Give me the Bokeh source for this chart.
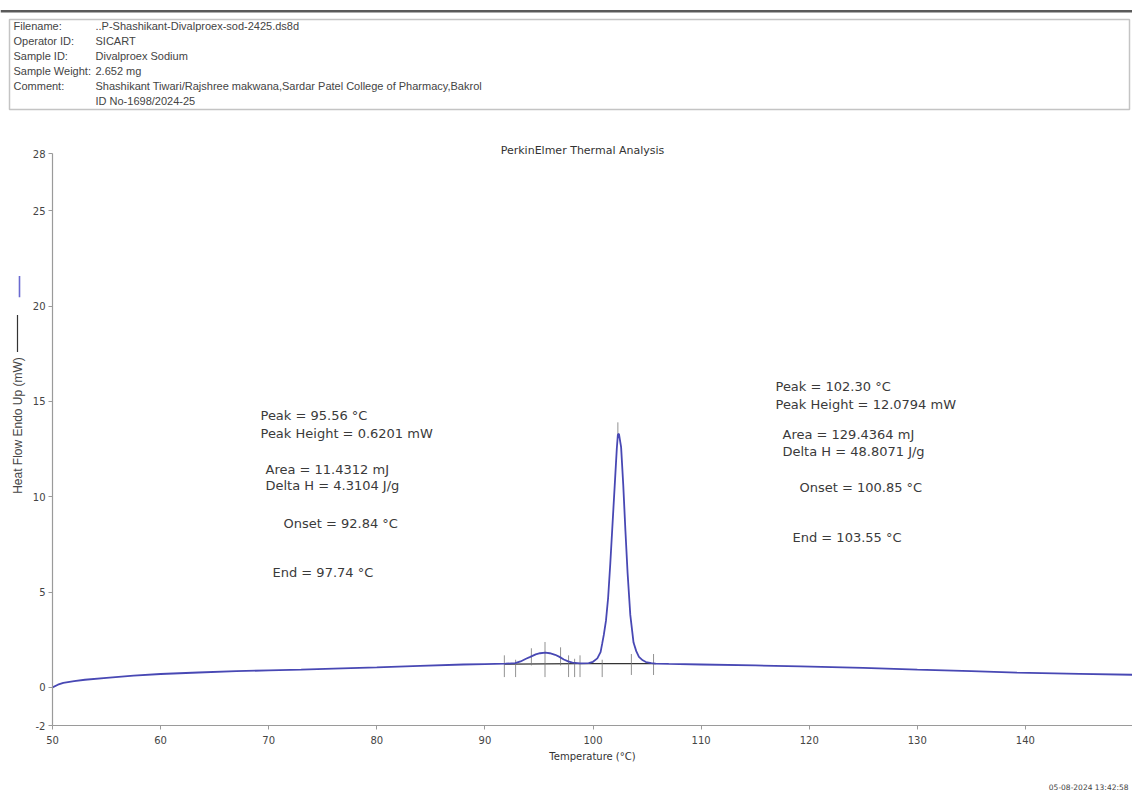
import math
from bokeh.plotting import figure
from bokeh.layouts import column, row
from bokeh.models import Label, FixedTicker, Range1d, PrintfTickFormatter
from bokeh.core.properties import value
from bokeh.embed import file_html
from bokeh.resources import INLINE

# ---------------- data ----------------
temperature = [50.0, 50.5, 51.0, 52.0, 53.0, 55.0, 57.5, 60.0, 63.5, 67.0, 70.0, 73.0,
               76.0, 80.0, 84.0, 88.0, 90.0, 91.9, 92.8, 93.3, 93.8, 94.2, 94.7, 95.1,
               95.6, 96.0, 96.5, 96.9, 97.3, 97.7, 98.1, 98.8, 99.6, 100.0, 100.4, 100.7,
               100.85, 101.0, 101.2, 101.4, 101.6, 101.8, 102.05, 102.2, 102.3, 102.4,
               102.6, 102.8, 103.0, 103.2, 103.45, 103.75, 104.0, 104.25, 104.6, 104.9,
               105.4, 105.8, 107.0, 110.0, 115.0, 119.2, 125.0, 130.0, 135.0, 139.2,
               145.0, 149.9]
heat_flow = [0.0, 0.14, 0.24, 0.33, 0.40, 0.50, 0.62, 0.70, 0.78, 0.85, 0.89, 0.93,
             0.98, 1.05, 1.13, 1.20, 1.22, 1.24, 1.27, 1.36, 1.50, 1.60, 1.73, 1.79,
             1.82, 1.79, 1.71, 1.60, 1.46, 1.36, 1.30, 1.26, 1.27, 1.34, 1.52, 1.85,
             2.29, 2.75, 3.5, 4.7, 6.5, 8.5, 11.0, 12.5, 13.25, 13.3,
             12.6, 10.6, 8.2, 6.0, 3.8, 2.35, 1.9, 1.6, 1.42, 1.33,
             1.27, 1.25, 1.23, 1.20, 1.15, 1.10, 1.02, 0.93, 0.85, 0.77,
             0.71, 0.66]

# integration baselines
baseline_t0 = [91.8, 98.8]
baseline_t1 = [98.8, 105.8]
baseline_h0 = [1.22, 1.24]
baseline_h1 = [1.24, 1.24]

# event markers
mark_temp = [91.8, 92.84, 94.3, 95.56, 97.0, 97.74, 98.3, 98.8, 100.85, 102.30, 103.55, 105.6]
mark_top = [1.68, 1.45, 2.05, 2.38, 2.10, 1.68, 1.50, 1.68, 1.45, 13.9, 1.75, 1.75]
mark_bottom = [0.54, 0.54, 1.15, 0.54, 1.15, 0.54, 0.54, 0.54, 0.54, 13.1, 0.65, 0.65]

x_ticks = [50, 60, 70, 80, 90, 100, 110, 120, 130, 140, 150]
y_ticks = [-2, 0, 5, 10, 15, 20, 25, 28]

peak1_text = ["Peak = 95.56 °C", "Peak Height = 0.6201 mW", "Area = 11.4312 mJ",
              "Delta H = 4.3104 J/g", "Onset = 92.84 °C", "End = 97.74 °C"]
peak2_text = ["Peak = 102.30 °C", "Peak Height = 12.0794 mW", "Area = 129.4364 mJ",
              "Delta H = 48.8071 J/g", "Onset = 100.85 °C", "End = 103.55 °C"]

header_fields = ["Filename:", "Operator ID:", "Sample ID:", "Sample Weight:", "Comment:", ""]
header_values = ["..P-Shashikant-Divalproex-sod-2425.ds8d", "SICART", "Divalproex Sodium",
                 "2.652 mg",
                 "Shashikant Tiwari/Rajshree makwana,Sardar Patel College of Pharmacy,Bakrol",
                 "ID No-1698/2024-25"]

title_text = "PerkinElmer Thermal Analysis"
x_label = "Temperature (°C)"
y_label = "Heat Flow Endo Up (mW)"
timestamp = "05-08-2024 13:42:58"

# ---------------- layout (page pixels) ----------------
PAGE_W = 1132
HEAD_H = 138          # header strip height (= top of plot frame)
FOOT_TOP = 770        # footer strip starts here
LEFT_W = 26           # strip holding the y label
FL, FR, FB = 52, 1132, 725     # plot frame left/right/bottom
Y_TOP_PX = 153                 # pixel row of the top tick (28)
PPU_X = 10.81
PPU_Y = (FB - Y_TOP_PX) / 30.0
X0, X1 = 50, 50 + (FR - FL) / PPU_X
Y0, Y1 = -2, 28 + (Y_TOP_PX - HEAD_H) / PPU_Y


def dx(px):
    return X0 + (px - FL) / PPU_X


def dy(py):
    return 28 - (py - Y_TOP_PX) / PPU_Y


def blank(w, h, y_top, y_bottom, x_left=0):
    f = figure(width=w, height=h, output_backend="svg", toolbar_location=None,
               x_range=Range1d(x_left, x_left + w), y_range=Range1d(y_bottom, y_top),
               x_axis_type=None, y_axis_type=None, min_border=0)
    f.outline_line_color = None
    f.grid.visible = False
    return f


# ---------- header strip ----------
hd = blank(PAGE_W, HEAD_H, 0, HEAD_H)
hd.quad(left=[0], right=[PAGE_W], top=[9.5], bottom=[12], fill_color="#5a5a5a",
        line_alpha=0)
hd.quad(left=[9], right=[1129], top=[19], bottom=[109], fill_alpha=0,
        line_color="#c4c4c4", line_width=1.5)
hy = [25 + 15 * i for i in range(len(header_fields))]
hd.text(x=[13] * len(header_fields), y=hy, text=header_fields,
        text_font=value("Liberation Sans"), text_font_size="11px",
        text_color="#444444", text_align="left", text_baseline="middle")
hd.text(x=[95] * len(header_values), y=hy, text=header_values,
        text_font=value("Liberation Sans"), text_font_size="11px",
        text_color="#444444", text_align="left", text_baseline="middle")

# ---------- left strip (y label with line key) ----------
lf = blank(LEFT_W, FOOT_TOP - HEAD_H, HEAD_H, FOOT_TOP)
lf.text(x=[17], y=[447], text=[y_label], angle=math.pi / 2,
        text_font=value("Liberation Sans"), text_font_size="12px",
        text_color="#444444", text_align="center", text_baseline="middle")
lf.segment(x0=[17], y0=[328], x1=[17], y1=[368], line_color="#333333", line_width=1.2)
lf.segment(x0=[19], y0=[286], x1=[19], y1=[309], line_color="#6a6ad0", line_width=1.6)

# ---------- main plot ----------
p = figure(width=PAGE_W - LEFT_W, height=FOOT_TOP - HEAD_H, output_backend="svg",
           toolbar_location=None, x_range=Range1d(X0, X1), y_range=Range1d(Y0, Y1),
           min_border_left=FL - LEFT_W, min_border_right=PAGE_W - FR,
           min_border_top=0, min_border_bottom=FOOT_TOP - FB)
p.outline_line_color = None
p.grid.visible = False

p.xaxis.ticker = FixedTicker(ticks=x_ticks)
p.yaxis.ticker = FixedTicker(ticks=y_ticks)
p.yaxis.formatter = PrintfTickFormatter(format="%d")
p.yaxis.bounds = (-2, 28)
for ax in (p.xaxis, p.yaxis):
    ax.axis_line_color = "#9a9a9a"
    ax.axis_line_width = 1.2
    ax.major_tick_line_color = "#9a9a9a"
    ax.major_tick_in = 0
    ax.major_tick_out = 4
    ax.minor_tick_line_color = None
    ax.major_label_text_font = "DejaVu Sans"
    ax.major_label_text_font_size = "10px"
    ax.major_label_text_color = "#444444"
p.xaxis.major_label_standoff = 6
p.yaxis.major_label_standoff = 3
p.xaxis.axis_label = x_label
p.xaxis.axis_label_text_font = "DejaVu Sans"
p.xaxis.axis_label_text_font_size = "10px"
p.xaxis.axis_label_text_font_style = "normal"
p.xaxis.axis_label_text_color = "#333333"
p.xaxis.axis_label_standoff = 4

p.segment(x0=baseline_t0, y0=baseline_h0, x1=baseline_t1, y1=baseline_h1,
          line_color="#333333", line_width=1.2)
p.segment(x0=mark_temp, y0=mark_bottom, x1=mark_temp, y1=mark_top,
          line_color="#777777", line_width=1, line_alpha=0.8)
p.line(temperature, heat_flow, line_color="#4848b4", line_width=1.8)

# chart title (sits just above the top tick, inside the drawing area)
p.add_layout(Label(x=dx(582), y=dy(149.5), text=title_text, text_font="DejaVu Sans",
                   text_font_size="11px", text_color="#333333",
                   text_align="center", text_baseline="alphabetic"))

left_px = [260, 260, 265, 265, 283, 272]
left_py = [415, 433, 469, 485, 523, 572]
right_px = [775, 775, 782, 782, 799, 792]
right_py = [386, 404, 434, 451, 487, 537]
for txt, px, py in zip(peak1_text + peak2_text, left_px + right_px, left_py + right_py):
    p.add_layout(Label(x=dx(px), y=dy(py), text=txt, text_font="DejaVu Sans",
                       text_font_size="13px", text_color="#3a3a3a",
                       text_align="left", text_baseline="middle"))

# ---------- footer strip ----------
ft = blank(PAGE_W, 794 - FOOT_TOP, FOOT_TOP, 794)
ft.text(x=[1128], y=[787], text=[timestamp], text_font=value("DejaVu Sans"),
        text_font_size="7.5px", text_color="#444444", text_align="right",
        text_baseline="middle")

layout = column(hd, row(lf, p), ft)
open("out.html", "w").write(file_html(layout, INLINE))
